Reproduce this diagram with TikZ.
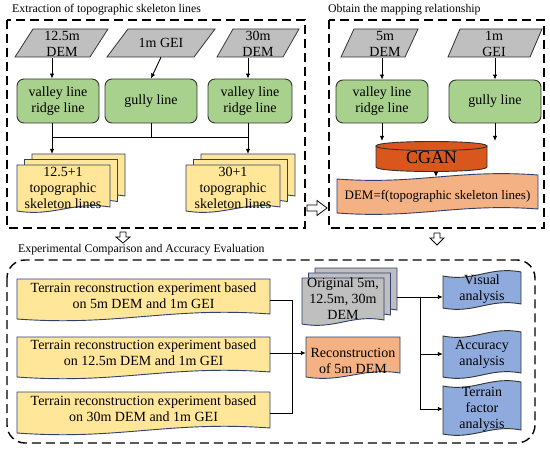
\documentclass[tikz,border=0pt]{standalone}
\usepackage{fontspec}
\setmainfont{Liberation Serif}
\usetikzlibrary{arrows.meta,calc}
\definecolor{greenfill}{HTML}{A9D18E}
\definecolor{grayfill}{HTML}{BFBFBF}
\definecolor{yellowfill}{HTML}{FFE699}
\definecolor{orangefill}{HTML}{F4B183}
\definecolor{cganfill}{HTML}{D9561C}
\definecolor{bluefill}{HTML}{8FAADC}
\definecolor{navyline}{HTML}{2F3F6F}
\definecolor{darkline}{HTML}{333333}
\tikzset{
  txt/.style={align=center,font=\fontsize{14}{16}\selectfont,inner sep=0pt},
  ttl/.style={anchor=west,font=\fontsize{11.8}{13}\selectfont,inner sep=0pt},
  conn/.style={line width=0.9pt,-{Latex[length=5pt,width=4.5pt]}},
  plainline/.style={line width=0.9pt},
  dashbox/.style={line width=1.4pt,dash pattern=on 9pt off 5pt},
  greenbox/.style={txt,draw=darkline,fill=greenfill,rounded corners=7pt,line width=0.9pt},
  paraS/.style={draw=darkline,fill=grayfill,line width=0.8pt},
  yellowS/.style={draw=navyline,fill=yellowfill,line width=0.9pt},
  grayS/.style={draw=navyline,fill=grayfill,line width=0.9pt},
  orangeS/.style={draw=navyline,fill=orangefill,line width=0.9pt},
  blueS/.style={draw=darkline,fill=bluefill,line width=0.9pt},
  hollow/.style={draw=black,fill=white,line width=0.8pt},
}
% parallelogram: style, bottom-left x, top y, width, height, slant
\newcommand\paraShape[6]{\draw[#1] ({#2+#6},#3) -- ({#2+#6+#4},#3) -- ({#2+#4},{#3+#5}) -- (#2,{#3+#5}) -- cycle;}
% document: style, x, y, w, h, amp
\newcommand\docShape[6]{\draw[#1] (#2,#3) -- ({#2+#4},#3) -- ({#2+#4},{#3+#5-#6}) .. controls ({#2+0.6*#4},{#3+#5-2.5*#6}) and ({#2+0.4*#4},{#3+#5+1.5*#6}) .. (#2,{#3+#5}) -- cycle;}
% tape: style, x, y, w, h, amp
\newcommand\tapeShape[6]{\draw[#1] (#2,#3) .. controls ({#2+0.4*#4},{#3+1.5*#6}) and ({#2+0.6*#4},{#3-2.5*#6}) .. ({#2+#4},{#3-#6}) -- ({#2+#4},{#3+#5-#6}) .. controls ({#2+0.6*#4},{#3+#5-2.5*#6}) and ({#2+0.4*#4},{#3+#5+1.5*#6}) .. (#2,{#3+#5}) -- cycle;}

\begin{document}
\begin{tikzpicture}[x=1pt,y=-1pt]
\useasboundingbox (0,0) rectangle (550,452);

% ---------- titles ----------
\node[ttl] (t1) at (12,10) {Extraction of topographic skeleton lines};
\node[ttl] (t2) at (328,10) {Obtain the mapping relationship};
\node[ttl] (t3) at (18,250) {Experimental Comparison and Accuracy Evaluation};

% ---------- dashed frames ----------
\draw[dashbox] (7,20) rectangle (305,228);
\draw[dashbox] (329,20) rectangle (544,228);
\draw[dashbox,rounded corners=18pt] (7,260) rectangle (535,443);

% ---------- panel 1 ----------
\paraShape{paraS}{15}{29}{75}{28}{18}
\paraShape{paraS}{107}{29}{87}{28}{21}
\paraShape{paraS}{217}{29}{66}{28}{16}
\node[txt,minimum width=75pt,minimum height=28pt] (p1) at (62,44) {12.5m\\DEM};
\node[txt,minimum width=87pt,minimum height=28pt] (p2) at (161,43) {1m GEI};
\node[txt,minimum width=66pt,minimum height=28pt] (p3) at (258,44) {30m\\DEM};

\node[greenbox,minimum width=82pt,minimum height=44pt] (g1) at (58,101) {valley line\\ridge line};
\node[greenbox,minimum width=92pt,minimum height=44pt] (g2) at (151,101) {gully line};
\node[greenbox,minimum width=84pt,minimum height=44pt] (g3) at (250,101) {valley line\\ridge line};

\coordinate (a1) at (52,137);
\coordinate (a3) at (248,137);
\coordinate (s1top) at (52,154);
\coordinate (s2top) at (248,154);

\draw[conn] (p1.south -| a1) -- (g1.north -| a1);
\draw[conn] (p2.south) -- (g2.north);
\draw[conn] (p3.south -| a3) -- (g3.north -| a3);
\draw[plainline] (g1.south -| a1) -- (a1) -- (a3);
\draw[plainline] (g2.south) -- (g2.south |- a1);
\draw[plainline] (g3.south -| a3) -- (a3);
\draw[conn] (a1) -- (s1top);
\draw[conn] (a3) -- (s2top);

% stacks
\docShape{yellowS}{32}{154}{93}{46}{4}
\docShape{yellowS}{24.5}{159.5}{93}{46}{4}
\docShape{yellowS}{17}{165}{93}{46}{4}
\node[txt,minimum width=93pt,minimum height=40pt] (s1) at (63,188) {12.5+1\\topographic\\skeleton lines};
\docShape{yellowS}{201}{154}{94}{46}{4}
\docShape{yellowS}{193.5}{159.5}{94}{46}{4}
\docShape{yellowS}{186}{165}{94}{46}{4}
\node[txt,minimum width=94pt,minimum height=40pt] (s2) at (233,188) {30+1\\topographic\\skeleton lines};

% hollow arrows
\draw[hollow] (307,205) -- (317,205) -- (317,200.5) -- (327,208) -- (317,215.5) -- (317,211) -- (307,211) -- cycle;
\draw[hollow] (120,232) -- (126,232) -- (126,237) -- (130,237) -- (123,243) -- (116,237) -- (120,237) -- cycle;
\draw[hollow] (434,233) -- (440,233) -- (440,238) -- (444,238) -- (437,245) -- (430,238) -- (434,238) -- cycle;

% ---------- panel 2 ----------
\paraShape{paraS}{341}{29}{64}{28}{13}
\paraShape{paraS}{448}{29}{82}{28}{12}
\node[txt,minimum width=64pt,minimum height=28pt] (p4) at (385,44) {5m\\DEM};
\node[txt,minimum width=82pt,minimum height=28pt] (p5) at (494,44) {1m\\GEI};

\node[greenbox,minimum width=92pt,minimum height=43pt] (g4) at (382,101.5) {valley line\\ridge line};
\node[greenbox,minimum width=92pt,minimum height=43pt] (g5) at (495,101.5) {gully line};

\draw[conn] (p4.south -| g4) -- (g4.north);
\draw[conn] (p5.south -| g5) -- (g5.north);

% CGAN cylinder
\draw[draw=darkline,fill=cganfill,line width=0.9pt] (376,146) -- (376,167) .. controls (376,173) and (487,173) .. (487,167) -- (487,146) -- cycle;
\draw[draw=darkline,fill=cganfill,line width=0.9pt] (376,146) .. controls (376,140) and (487,140) .. (487,146) .. controls (487,152) and (376,152) .. (376,146) -- cycle;
\node[inner sep=0pt,font=\fontsize{18}{18}\selectfont,minimum width=111pt,minimum height=28pt] (cgan) at (431.5,157.5) {CGAN};
\coordinate (ct) at (0,141);
\draw[conn] (g4.south) -- (g4.south |- ct);
\draw[conn] (g5.south) -- (g5.south |- ct);

% DEM = f box
\tapeShape{orangeS}{337}{179}{201}{34}{4}
\node[txt,font=\fontsize{13}{15}\selectfont,minimum width=201pt,minimum height=38pt] (dem) at (437.5,196) {DEM=f(topographic skeleton lines)};
\coordinate (cd) at (436,0);
\draw[conn] (cgan.south -| cd) -- (dem.north -| cd);

% ---------- panel 3 ----------
\docShape{yellowS}{17}{279}{253}{40}{5}
\docShape{yellowS}{17}{337}{253}{40}{5}
\docShape{yellowS}{17}{392}{253}{41}{5}
\node[txt,minimum width=253pt,minimum height=34pt] (y1) at (143.5,296) {Terrain reconstruction experiment based\\on 5m DEM and 1m GEI};
\node[txt,minimum width=253pt,minimum height=34pt] (y2) at (143.5,353) {Terrain reconstruction experiment based\\on 12.5m DEM and 1m GEI};
\node[txt,minimum width=253pt,minimum height=34pt] (y3) at (143.5,409) {Terrain reconstruction experiment based\\on 30m DEM and 1m GEI};

\docShape{orangeS}{306}{337}{94}{40}{4}
\node[txt,minimum width=94pt,minimum height=34pt] (rec) at (353,361) {Reconstruction\\of 5m DEM};

\coordinate (k1) at (292,300);
\coordinate (k2) at (292,353);
\coordinate (k3) at (292,413);
\draw[plainline] (y1.east |- k1) -- (k1) -- (k3) -- (y3.east |- k3);
\draw[conn] (y2.east |- k2) -- (rec.west |- k2);

% original DEM stack
\docShape{grayS}{315}{268}{82}{46}{4}
\docShape{grayS}{308.5}{273}{82}{46}{4}
\docShape{grayS}{302}{278}{82}{46}{4}
\node[txt,minimum width=82pt,minimum height=40pt] (orig) at (343,299) {Original 5m,\\12.5m, 30m\\DEM};

% analysis tapes
\tapeShape{blueS}{443}{276}{78}{32}{4}
\tapeShape{blueS}{443}{336}{78}{41}{4}
\tapeShape{blueS}{443}{386}{78}{48}{4}
\node[txt,minimum width=78pt,minimum height=30pt] (vis) at (482,289) {Visual\\analysis};
\node[txt,minimum width=78pt,minimum height=34pt] (acc) at (482,354) {Accuracy\\analysis};
\node[txt,minimum width=78pt,minimum height=44pt] (ter) at (482,409) {Terrain\\factor\\analysis};

\coordinate (ob) at (397,297);
\coordinate (m) at (420,297);
\draw[conn] (ob) -- (vis.west |- ob);
\draw[plainline] (m) -- (m |- ter);
\draw[conn] (m |- acc) -- (acc.west);
\draw[conn] (m |- ter) -- (ter.west);
\end{tikzpicture}
\end{document}
